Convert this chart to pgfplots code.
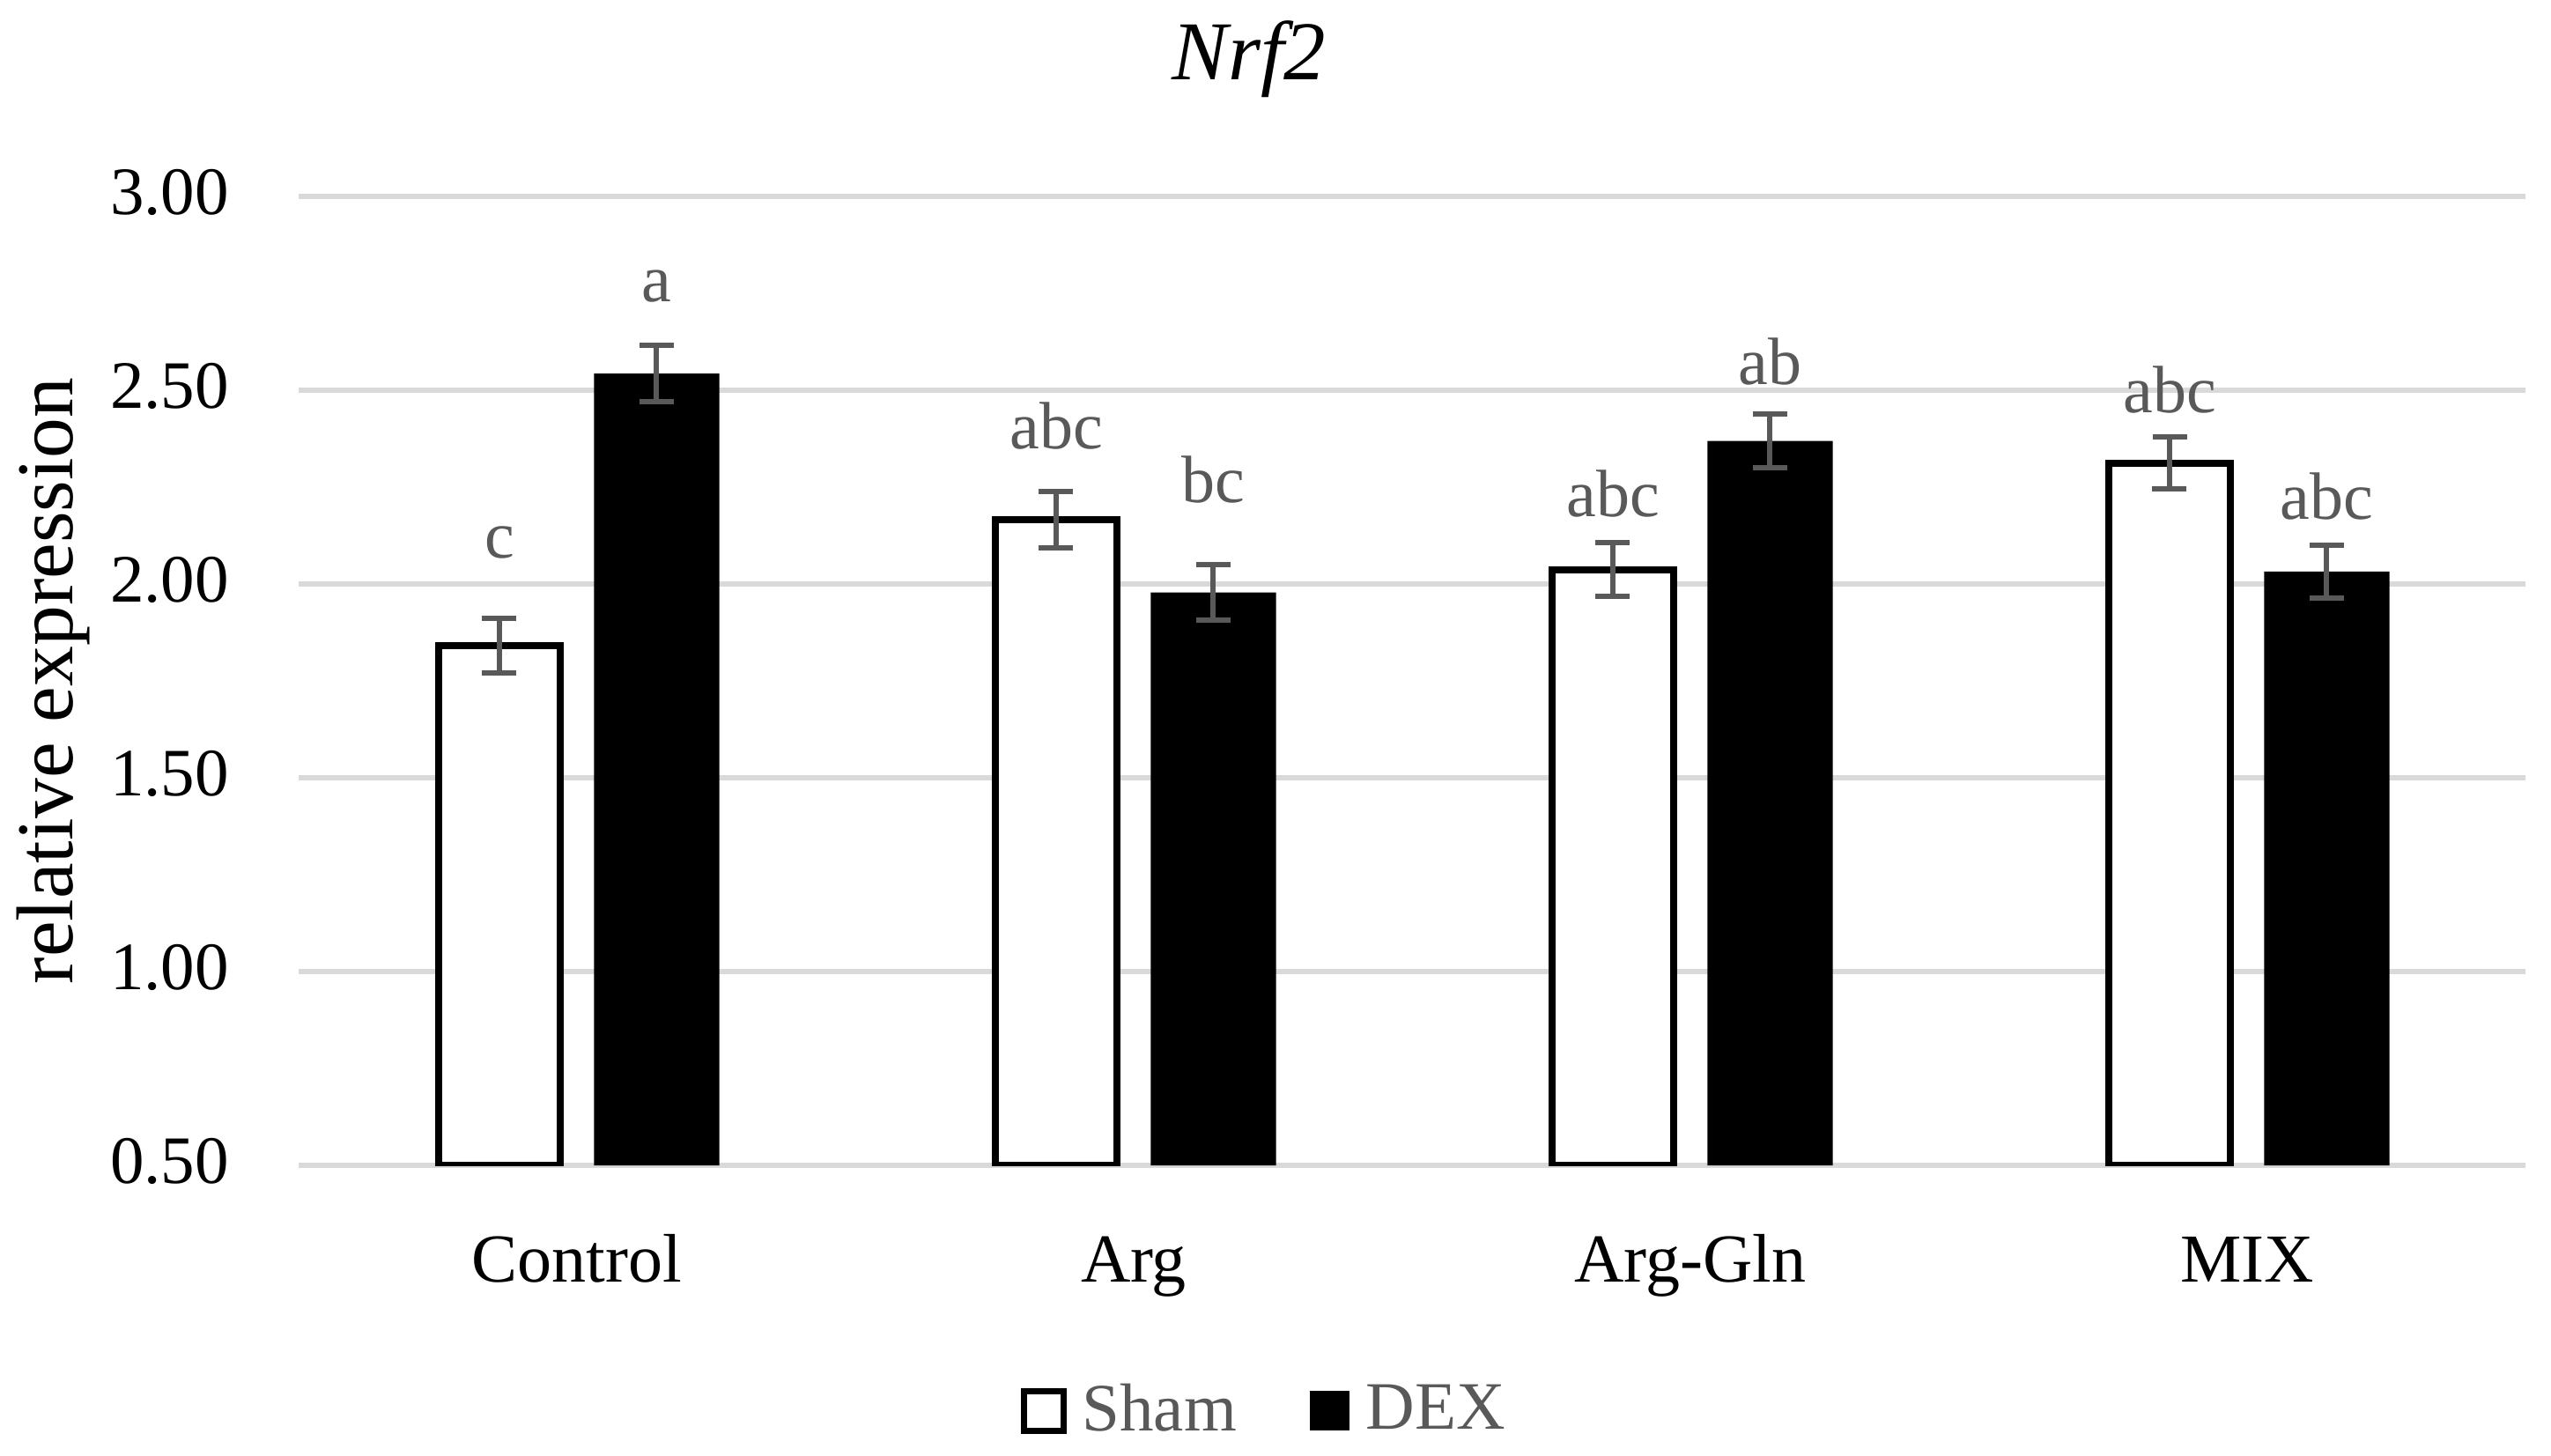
\documentclass[border=0pt]{standalone}
\usepackage{fontspec}
\setmainfont{Liberation Serif}
\usepackage{pgfplots}
\pgfplotsset{compat=1.18}
\definecolor{gridgray}{HTML}{D9D9D9}
\definecolor{txtgray}{HTML}{595959}
\definecolor{errgray}{HTML}{595959}
\begin{document}
\begin{tikzpicture}
\path[use as bounding box] (0,0) rectangle (579.2pt,330.4pt);
\begin{axis}[
  at={(67.8pt,65.8pt)}, anchor=south west,
  width=505.6pt, height=220pt, scale only axis,
  ybar,
  xmin=-0.5, xmax=3.5, ymin=0.5, ymax=3,
  xtick={0,1,2,3}, xticklabels={Control,Arg,Arg-Gln,MIX},
  ytick={0.5,1,1.5,2,2.5,3},
  ymajorgrids, grid style={draw=gridgray, line width=1.2pt},
  axis line style={draw=none},
  major tick length=0pt,
  /pgf/number format/.cd, fixed, fixed zerofill, precision=2, assume math mode=true,
  /pgfplots/.cd,
  yticklabel style={anchor=east, inner sep=0pt, xshift=-15.6pt, yshift=1pt, font=\fontsize{15.4}{18}\selectfont},
  xticklabel style={anchor=base, inner sep=0pt, yshift=-26.4pt, font=\fontsize{15.6}{18}\selectfont},
  ylabel={relative expression},
  every axis y label/.style={at={(axis description cs:-0.10127,0.5)}, rotate=90, anchor=base, inner sep=0pt, font=\fontsize{18.3}{21}\selectfont},
  title={\itshape Nrf2},
  every axis title/.style={at={(axis description cs:0.4268,1.1209)}, anchor=base, inner sep=0pt, font=\fontsize{19}{22}\selectfont},
  legend columns=2,
  legend style={draw=none, fill=none, inner sep=0pt, outer sep=0pt, anchor=south,
    at={(axis description cs:0.433,-0.2809)},
    nodes={inner sep=0pt, text=txtgray, font=\fontsize{15.4}{18}\selectfont},
    /tikz/every odd column/.append style={column sep=3.6pt},
    /tikz/every even column/.append style={column sep=16.7pt}},
]
\addplot[bar width=27.6pt, bar shift=-17.6pt, fill=white, draw=black, line width=1.6pt,
  legend image code/.code={\draw[fill=white, draw=black, line width=1.4pt] (0pt,-4.5pt) rectangle (9pt,4.5pt);},
  error bars/.cd, y dir=both, y explicit,
  error bar style={line width=1.2pt, draw=errgray},
  error mark options={rotate=90, line width=1.2pt, mark size=3.9pt, draw=errgray}]
coordinates {(0,1.841) +- (0,0.070) (1,2.166) +- (0,0.072) (2,2.0375) +- (0,0.069) (3,2.312) +- (0,0.067)};
\addlegendentry{Sham}
\addplot[bar width=28.4pt, bar shift=18.1pt, fill=black, draw=none,
  legend image code/.code={\fill[black] (0pt,-4.5pt) rectangle (9pt,4.5pt);},
  error bars/.cd, y dir=both, y explicit,
  error bar style={line width=1.2pt, draw=errgray},
  error mark options={rotate=90, line width=1.2pt, mark size=3.9pt, draw=errgray}]
coordinates {(0,2.543) +- (0,0.073) (1,1.978) +- (0,0.072) (2,2.369) +- (0,0.069) (3,2.032) +- (0,0.069)};
\addlegendentry{DEX}
\begin{scope}[every node/.style={anchor=base, inner sep=0pt, text=txtgray, font=\fontsize{15.2}{18}\selectfont}]
\node at (axis cs:-0.1392,2.066) {c};
\node at (axis cs:0.1432,2.728) {a};
\node at (axis cs:0.8608,2.348) {abc};
\node at (axis cs:1.1432,2.210) {bc};
\node at (axis cs:1.8608,2.175) {abc};
\node at (axis cs:2.1432,2.514) {ab};
\node at (axis cs:2.8608,2.441) {abc};
\node at (axis cs:3.1432,2.166) {abc};
\end{scope}
\end{axis}
\end{tikzpicture}
\end{document}
